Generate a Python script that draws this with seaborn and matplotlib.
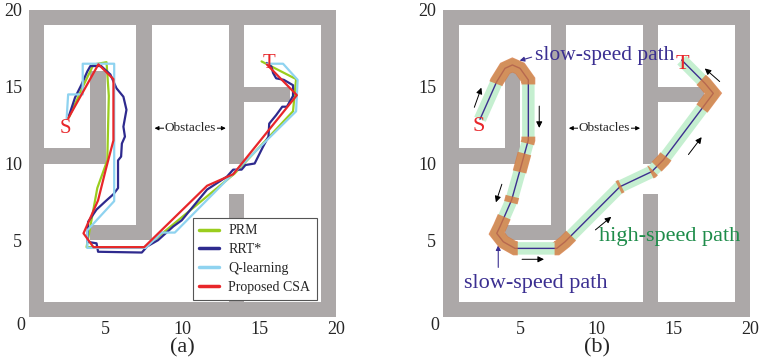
import matplotlib
matplotlib.use("Agg")
import matplotlib.pyplot as plt
from matplotlib.patches import Rectangle
import seaborn as sns

# maze walls: (x, y, width, height)
walls = [(0, 0, 20, 1), (0, 19, 20, 1), (0, 0, 1, 20), (19, 0, 1, 20),
         (7, 5, 1, 14), (4, 5, 4, 1), (4, 10, 1, 6), (1, 10, 4, 1),
         (13, 10, 1, 9), (13, 1, 1, 7), (14, 14, 3, 1)]

# (a) planned paths
prm = [(2.6, 13.0), (3.6, 15.2), (4.2, 16.45), (5.05, 16.6), (5.2, 14.4), (5.1, 10.2),
       (4.45, 8.4), (3.75, 4.55), (7.6, 4.55), (13.4, 9.35), (17.2, 13.4), (17.4, 15.5),
       (15.15, 16.65)]
rrt = [(2.6, 13.1), (3.0, 14.3), (3.4, 15.1), (3.8, 16.0), (4.0, 16.35), (4.7, 16.35),
       (5.3, 15.8), (5.7, 14.9), (6.15, 14.35), (6.35, 13.5), (6.15, 12.4), (6.25, 11.75),
       (6.05, 11.3), (6.0, 10.45), (5.8, 10.2), (5.8, 8.4), (5.5, 8.0), (5.05, 7.6),
       (4.4, 7.0), (3.85, 6.2), (3.8, 4.9), (4.4, 4.8), (4.5, 4.25), (7.35, 4.2),
       (7.7, 4.6), (8.4, 5.0), (9.4, 5.9), (9.95, 6.3), (11.6, 8.3), (12.9, 9.15),
       (13.3, 9.6), (13.85, 9.6), (14.1, 9.9), (14.7, 10.0), (15.25, 11.1), (15.6, 11.75),
       (15.65, 12.6), (16.1, 13.15), (16.5, 13.7), (16.8, 13.7), (17.2, 14.4), (17.2, 15.1),
       (16.6, 15.45), (16.1, 15.55), (15.9, 15.9), (15.8, 16.3), (15.5, 16.55)]
qlearn = [(2.45, 12.9), (2.55, 14.5), (3.5, 14.5), (3.5, 16.5), (5.55, 16.5), (5.55, 7.55),
          (3.8, 5.65), (3.8, 4.5), (7.6, 4.5), (8.65, 5.5), (9.5, 5.5), (13.4, 9.45),
          (17.4, 13.4), (17.5, 15.45), (16.55, 16.5), (15.5, 16.5)]
csa = [(2.56, 12.95), (4.52, 16.46), (5.5, 15.5), (5.5, 11.5), (5.0, 9.6), (4.5, 7.6),
       (3.55, 5.45), (4.2, 4.55), (7.5, 4.55), (11.6, 8.55), (13.3, 9.3), (17.45, 14.45),
       (15.5, 16.45)]
methods = ["PRM", "RRT*", "Q-learning", "Proposed CSA"]
method_colors = ["#9acd1e", "#2e2a8e", "#8fd3f0", "#e8262a"]

# (b) smoothed CSA path and its slow-speed parts
smooth = [(2.39, 12.88), (3.48, 15.33), (4.02, 16.2), (4.5, 16.42), (5.0, 16.2), (5.54, 15.44),
          (5.54, 11.53), (5.0, 9.58), (4.45, 7.62), (3.69, 5.88), (3.48, 5.45), (3.91, 4.9),
          (4.67, 4.47), (7.39, 4.47), (7.93, 4.9), (11.51, 8.49), (13.58, 9.47), (14.33, 10.23),
          (16.94, 13.7), (17.59, 14.57), (17.05, 15.22), (15.53, 16.74)]
slow_parts = [
    [(3.43, 15.2), (3.48, 15.33), (4.02, 16.2), (4.5, 16.42), (5.0, 16.2), (5.54, 15.44), (5.54, 15.15)],
    [(5.54, 11.75), (5.54, 11.53), (5.48, 11.3)],
    [(5.29, 10.65), (5.0, 9.58), (4.97, 9.45)],
    [(4.5, 7.85), (4.4, 7.45)],
    [(3.97, 6.53), (3.69, 5.88), (3.48, 5.45), (3.91, 4.9), (4.67, 4.47), (4.85, 4.47)],
    [(7.25, 4.47), (7.39, 4.47), (7.93, 4.9), (8.33, 5.3)],
    [(11.42, 8.44), (11.6, 8.53)],
    [(13.5, 9.43), (13.58, 9.47), (13.66, 9.55)],
    [(13.9, 9.79), (14.33, 10.23), (14.5, 10.46)],
    [(16.85, 13.58), (16.94, 13.7), (17.59, 14.57), (17.05, 15.22), (16.8, 15.45)],
]
# direction arrows: (tail, head)
dir_arrows = [((1.96, 13.49), (2.54, 15.11)), ((6.25, 13.92), (6.25, 12.14)),
              ((3.87, 8.82), (3.37, 7.3)), ((4.95, 3.76), (6.74, 3.76)),
              ((9.77, 5.56), (11.08, 6.64)), ((15.86, 10.44), (16.94, 11.86)),
              ((18.14, 15.22), (16.9, 16.31))]

wall_color = "#aca8a8"
red = "#e8262a"
purple = "#3d2f8f"

sns.set_style("white")
plt.rcParams["font.family"] = ["Liberation Serif", "DejaVu Serif"]

fig = plt.figure(figsize=(7.59, 3.62), dpi=100)
ax_a = fig.add_axes([29 / 759, 45 / 362, 307 / 759, 307 / 362])
ax_b = fig.add_axes([443.3 / 759, 45 / 362, 307 / 759, 307 / 362])


def draw_path(ax, pts, **kw):
    sns.lineplot(x=[p[0] for p in pts], y=[p[1] for p in pts], sort=False,
                 estimator=None, ax=ax, **kw)


for ax, tag in [(ax_a, "(a)"), (ax_b, "(b)")]:
    for (x, y, w, h) in walls:
        ax.add_patch(Rectangle((x, y), w, h, facecolor=wall_color, edgecolor="none", zorder=1))
    ax.set_xlim(0, 20)
    ax.set_ylim(0, 20)
    ax.set_aspect("equal")
    for s in ax.spines.values():
        s.set_visible(False)
    ax.set_xticks([5, 10, 15, 20])
    ax.set_yticks([5, 10, 15, 20])
    ax.tick_params(length=0, labelsize=13, pad=3)
    ax.tick_params(axis="y", pad=5)
    ax.set_xlabel("")
    ax.set_ylabel("")
    ax.text(-0.028, -0.028, "0", transform=ax.transAxes, ha="center", va="center", fontsize=13)
    ax.text(0.5, -0.1, tag, transform=ax.transAxes, ha="center", va="center", fontsize=16)
    # obstacles label
    ax.annotate("", xy=(8.0, 12.3), xytext=(9.0, 12.3),
                arrowprops=dict(arrowstyle="-|>", color="k", lw=0.7, mutation_scale=6))
    ax.annotate("", xy=(13.0, 12.3), xytext=(12.0, 12.3),
                arrowprops=dict(arrowstyle="-|>", color="k", lw=0.7, mutation_scale=6))
    ax.text(10.5, 12.3, "Obstacles", ha="center", va="center", fontsize=9.5,
            bbox=dict(facecolor="white", edgecolor="none", pad=0.5))

# (a) comparison
for pts, name, col in zip([prm, rrt, qlearn, csa], methods, method_colors):
    draw_path(ax_a, pts, color=col, lw=1.6, label=name, zorder=3)
ax_a.text(2.4, 12.3, "S", color=red, fontsize=15, ha="center", va="center", zorder=4)
ax_a.text(15.65, 16.5, "T", color=red, fontsize=15, ha="center", va="center", zorder=4)
handles, labels = ax_a.get_legend_handles_labels()
leg = ax_a.legend(handles, labels, loc="lower right", bbox_to_anchor=(0.937, 0.055),
                  borderaxespad=0, fontsize=10, frameon=True, fancybox=False,
                  framealpha=1, edgecolor="#555555", handlelength=1.4, handletextpad=0.7,
                  labelspacing=0.42, borderpad=0.45)
leg.get_frame().set_linewidth(0.8)
for line in leg.get_lines():
    line.set_linewidth(2.5)

# (b) speed profile
draw_path(ax_b, smooth, color="#c5efd0", lw=9, solid_capstyle="butt",
          solid_joinstyle="round", legend=False, zorder=2)
draw_path(ax_b, smooth, color=purple, lw=1.0, legend=False, zorder=3)
for seg in slow_parts:
    draw_path(ax_b, seg, color="#d6783f", lw=10, alpha=0.8, solid_capstyle="butt",
              solid_joinstyle="miter", legend=False, zorder=4)
for tail, head in dir_arrows:
    ax_b.annotate("", xy=head, xytext=tail,
                  arrowprops=dict(arrowstyle="-|>", color="k", lw=0.7, mutation_scale=9))
ax_b.text(2.3, 12.4, "S", color=red, fontsize=16, ha="center", va="center", zorder=5)
ax_b.text(15.55, 16.45, "T", color=red, fontsize=16, ha="center", va="center", zorder=5)
ax_b.text(5.98, 17.05, "slow-speed path", color="#3b2f91", fontsize=15.5, ha="left", va="center", zorder=5)
ax_b.annotate("", xy=(4.8, 16.65), xytext=(5.93, 16.98),
              arrowprops=dict(arrowstyle="-|>", color="#3b2f91", lw=0.8, mutation_scale=7))
ax_b.text(6.0, 2.2, "slow-speed path", color="#3b2f91", fontsize=16, ha="center", va="center", zorder=5)
ax_b.annotate("", xy=(3.58, 4.85), xytext=(3.58, 3.05),
              arrowprops=dict(arrowstyle="-|>", color="#3b2f91", lw=0.8, mutation_scale=7))
ax_b.text(14.75, 5.25, "high-speed path", color="#1e8c4a", fontsize=16, ha="center", va="center", zorder=5)

fig.savefig("out.png", dpi=100)
